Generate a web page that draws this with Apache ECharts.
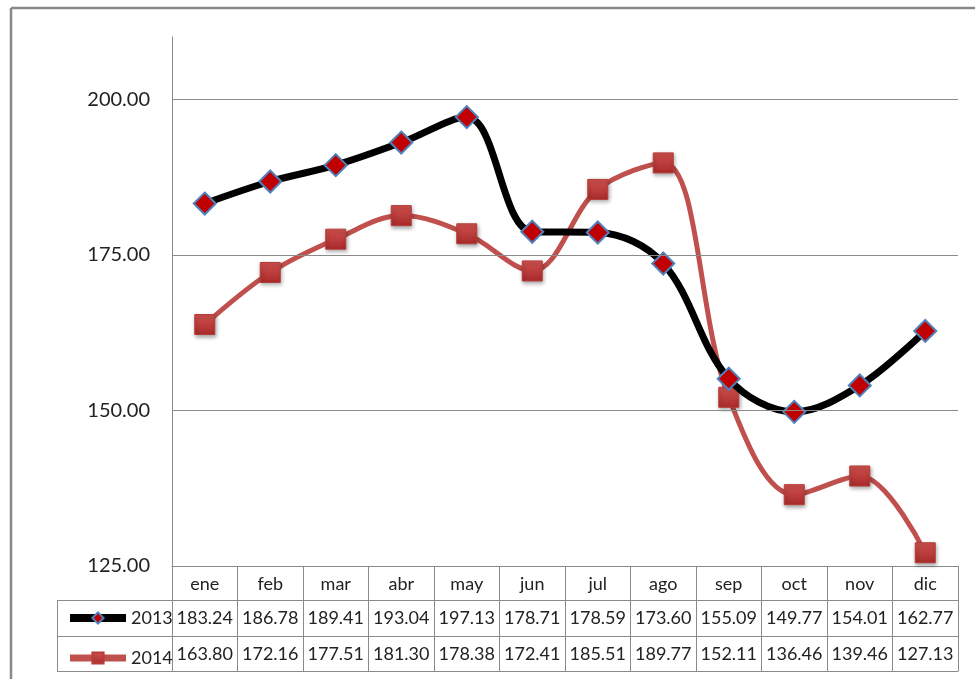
<!DOCTYPE html>
<html><head><meta charset="utf-8">
<script src="https://cdn.jsdelivr.net/npm/echarts@6/dist/echarts.min.js"></script>
<style>html,body{margin:0;padding:0;background:#fff}#c{width:975px;height:679px}</style>
</head><body><div id="c"></div>
<script>
const months = ['ene','feb','mar','abr','may','jun','jul','ago','sep','oct','nov','dic'];
const v2013 = [183.24,186.78,189.41,193.04,197.13,178.71,178.59,173.60,155.09,149.77,154.01,162.77];
const v2014 = [163.80,172.16,177.51,181.30,178.38,172.41,185.51,189.77,152.11,136.46,139.46,127.13];
const yTicks = [150,175,200];

const FONT = 'Lato';
const gridC = '#8a8a8a';
const chart = echarts.init(document.getElementById('c'), null, {renderer:'canvas'});
function tableAxis(offset, tickLen, fmt, margin){
  return {type:'category', data:months, position:'bottom', offset:offset, boundaryGap:true,
    axisLine:{show:true, lineStyle:{color:gridC, width:1}},
    axisTick:{show:tickLen>0, length:tickLen, inside:false, interval:0, lineStyle:{color:gridC,width:1}},
    axisLabel:{show:!!fmt, formatter:fmt, margin:margin, interval:0, hideOverlap:false,
      fontFamily:FONT, fontSize:18, color:'#222'},
    splitLine:{show:false}};
}
chart.setOption({
  animation:false,
  grid:{left:172, right:17, top:37, bottom:113, containLabel:false},
  legend:{orient:'vertical', left:61, top:604, itemGap:22, itemWidth:56, itemHeight:14,
    textStyle:{fontFamily:FONT, fontSize:18, color:'#222', padding:[0,0,5,0]},
    data:[{name:'2013', lineStyle:{width:8}}, {name:'2014', lineStyle:{width:7}}]},
  xAxis:[
    tableAxis(0, 34, v=>v, 9),
    tableAxis(34, 36, (v,i)=>v2013[i].toFixed(2), 9),
    tableAxis(70, 35, (v,i)=>v2014[i].toFixed(2), 9),
    tableAxis(105, 0, null, 0)
  ],
  yAxis:{type:'value', min:125, max:210, interval:25,
    axisLine:{show:true, lineStyle:{color:gridC, width:1}},
    axisTick:{show:false}, splitLine:{show:false},
    axisLabel:{showMaxLabel:false, formatter:v=>v.toFixed(2), fontFamily:FONT, fontSize:20, color:'#222', margin:22}},
  series:[
    {name:'2013', type:'line', data:v2013, smooth:0.35, xAxisIndex:0,
      lineStyle:{color:'#000', width:7},
      symbol:'diamond', symbolSize:22,
      itemStyle:{color:'#c00000', borderColor:'#4f81bd', borderWidth:2},
      markLine:{silent:true, symbol:'none', label:{show:false},
        lineStyle:{color:gridC, width:1, type:'solid'},
        data:yTicks.map(t=>({yAxis:t}))},
      z:3},
    {name:'2014', type:'line', data:v2014, smooth:0.35, xAxisIndex:0,
      lineStyle:{color:'#c0504d', width:5},
      symbol:'rect', symbolSize:20,
      itemStyle:{color:new echarts.graphic.LinearGradient(0,0,0,1,[{offset:0,color:'#d0524f'},{offset:1,color:'#a92a2a'}]),
        borderColor:'#b73c39', borderWidth:1,
        shadowBlur:4, shadowColor:'rgba(0,0,0,0.35)', shadowOffsetX:1, shadowOffsetY:2},
      z:2}
  ],
  graphic:[
    {type:'line', shape:{x1:11,y1:8,x2:11,y2:679}, style:{stroke:'#888', lineWidth:2.5}},
    {type:'line', shape:{x1:11,y1:8,x2:975,y2:8}, style:{stroke:'#888', lineWidth:2.5}},
    {type:'line', shape:{x1:57,y1:600.5,x2:172,y2:600.5}, style:{stroke:gridC, lineWidth:1}},
    {type:'line', shape:{x1:57,y1:636.5,x2:172,y2:636.5}, style:{stroke:gridC, lineWidth:1}},
    {type:'line', shape:{x1:57,y1:671.5,x2:172,y2:671.5}, style:{stroke:gridC, lineWidth:1}},
    {type:'line', shape:{x1:57.5,y1:600,x2:57.5,y2:672}, style:{stroke:gridC, lineWidth:1}}
  ]
});
</script></body></html>
